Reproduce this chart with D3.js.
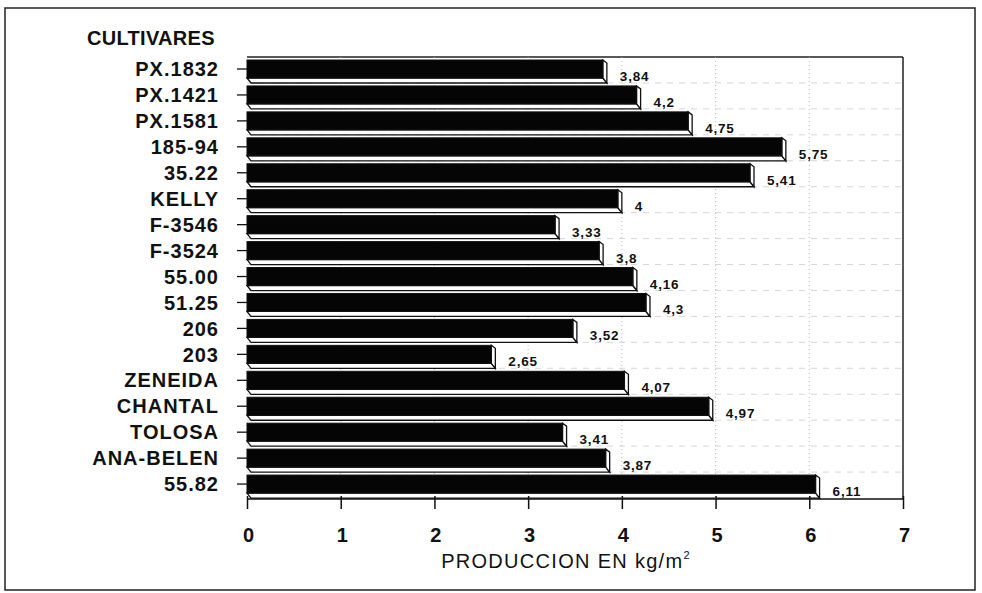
<!DOCTYPE html>
<html><head><meta charset="utf-8">
<script src="https://cdn.jsdelivr.net/npm/d3@7"></script>
<style>body{margin:0;background:#fff}svg{display:block}</style>
</head><body>
<svg id="c" width="982" height="593"></svg>
<script>
const categories = ["PX.1832","PX.1421","PX.1581","185-94","35.22","KELLY","F-3546","F-3524","55.00","51.25","206","203","ZENEIDA","CHANTAL","TOLOSA","ANA-BELEN","55.82"];
const values = [3.84,4.2,4.75,5.75,5.41,4,3.33,3.8,4.16,4.3,3.52,2.65,4.07,4.97,3.41,3.87,6.11];
const valueLabels = ["3,84","4,2","4,75","5,75","5,41","4","3,33","3,8","4,16","4,3","3,52","2,65","4,07","4,97","3,41","3,87","6,11"];
const xTicks = [0,1,2,3,4,5,6,7];

const svg = d3.select("#c");
const font = "'Liberation Sans', Arial, sans-serif";
const L = 247, R = 903, T = 57, B = 499;
const x = d3.scaleLinear().domain([0,7]).range([L,R]);
const y = d3.scaleBand().domain(categories).range([57, 498]).paddingInner(0.0).paddingOuter(0.0);

// outer frame
svg.append("rect").attr("x",5).attr("y",8).attr("width",970).attr("height",582)
  .attr("fill","none").attr("stroke","#222").attr("stroke-width",1.5);

// plot frame top & right
svg.append("line").attr("x1",L).attr("x2",R).attr("y1",T).attr("y2",T).attr("stroke","#222").attr("stroke-width",1.5);
svg.append("line").attr("x1",R).attr("x2",R).attr("y1",T).attr("y2",B).attr("stroke","#222").attr("stroke-width",1.5);

// gridlines
svg.append("g").selectAll("line").data(xTicks.slice(1,7)).join("line")
  .attr("x1",d=>x(d)).attr("x2",d=>x(d)).attr("y1",T).attr("y2",B)
  .attr("stroke","#aaa").attr("stroke-width",0.8).attr("stroke-dasharray","1,3");
svg.append("g").selectAll("line").data(categories.slice(1)).join("line")
  .attr("x1",L).attr("x2",R).attr("y1",d=>y(d)).attr("y2",d=>y(d))
  .attr("stroke","#ccc").attr("stroke-width",0.8).attr("stroke-dasharray","6,6");

// bars
const bh = 18, dx = 4, dy = 5;
const g = svg.append("g");
categories.forEach((c,i)=>{
  const top = y(c) + 3;
  const x0 = x(0), x1 = x(values[i]) - dx;
  g.append("path")
    .attr("d",`M${x0},${top+bh} L${x0+dx},${top+bh+dy} L${x1+dx},${top+bh+dy} L${x1},${top+bh} Z`)
    .attr("fill","#fff").attr("stroke","#111").attr("stroke-width",1.3);
  g.append("path")
    .attr("d",`M${x1},${top} L${x1+dx},${top+dy*0.6} L${x1+dx},${top+bh+dy} L${x1},${top+bh} Z`)
    .attr("fill","#fff").attr("stroke","#111").attr("stroke-width",1.3);
  g.append("rect").attr("x",x0).attr("y",top).attr("width",x1-x0).attr("height",bh)
    .attr("fill","#050505").attr("stroke","#111").attr("stroke-width",1);
  g.append("text").attr("x",x(values[i])+13).attr("y",top+bh+3)
    .attr("font-family",font).attr("font-weight","bold").attr("font-size",13.5)
    .attr("letter-spacing","0.8").attr("fill","#111").text(valueLabels[i]);
});

// y axis ticks & labels
svg.append("g").selectAll("line").data(categories).join("line")
  .attr("x1",237).attr("x2",x(0)).attr("y1",d=>y(d)+12).attr("y2",d=>y(d)+12)
  .attr("stroke","#111").attr("stroke-width",1.3);
svg.append("g").selectAll("text").data(categories).join("text")
  .attr("x",219).attr("y",d=>y(d)+12).attr("dy","0.36em").attr("text-anchor","end")
  .attr("font-family",font).attr("font-weight","bold").attr("font-size",20)
  .attr("letter-spacing","1").attr("fill","#111").text(d=>d);
svg.append("text").attr("x",87).attr("y",45).attr("font-family",font).attr("font-weight","bold")
  .attr("font-size",20).attr("fill","#111").attr("letter-spacing","0.3").text("CULTIVARES");

// x axis
const xa = svg.append("g").attr("transform",`translate(0,${B})`)
  .call(d3.axisBottom(x).tickValues(xTicks).tickSize(10).tickFormat(d3.format("d")));
xa.select(".domain").attr("stroke","#111").attr("stroke-width",1.5).attr("d",`M${L},0H${R}`);
xa.selectAll(".tick line").attr("stroke","#111").attr("stroke-width",1.5).attr("y1",-3).attr("y2",10);
xa.selectAll(".tick text").attr("font-family",font).attr("font-weight","bold").attr("font-size",20)
  .attr("fill","#111").attr("y",0).attr("dy",null).attr("transform","translate(1,43)");

const xt = svg.append("text").attr("x",566).attr("y",568).attr("text-anchor","middle")
  .attr("font-family",font).attr("font-size",20).attr("fill","#111").attr("letter-spacing","1.3");
xt.append("tspan").text("PRODUCCION EN kg/m");
xt.append("tspan").attr("font-size",11).attr("dy",-9).text("2");
</script>
</body></html>
